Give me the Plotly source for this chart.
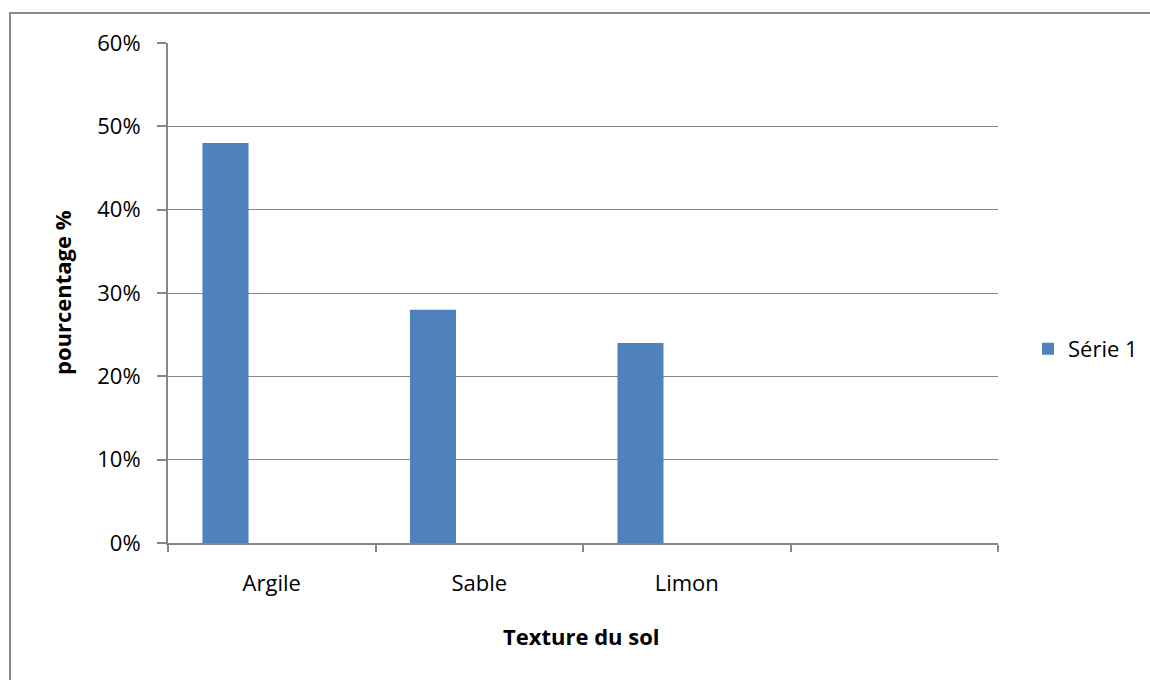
import plotly.graph_objects as go

# Soil texture shares
categories = ["Argile", "Sable", "Limon", ""]
series_name = "Série 1"
values = [0.48, 0.28, 0.24]
y_ticks = [0, 0.1, 0.2, 0.3, 0.4, 0.5, 0.6]

FONT = "Open Sans"
FS = 22
GREY = "#868686"
BAR = "#4F81BD"

# plot area geometry (pixels) used for paper-coordinate conversions
W, H = 1150, 680
L, R, T, B = 168, 998, 43, 543
pw, ph = R - L, B - T


def px_x(x):
    return (x - L) / pw


def px_y(y):
    return (B - y) / ph


idx = list(range(len(values)))

fig = go.Figure()
fig.add_trace(go.Bar(
    x=idx,
    y=values,
    name=series_name,
    offset=0.166,
    width=0.222,
    marker=dict(color=BAR, line=dict(width=0)),
    showlegend=True,
))

fig.update_layout(
    width=W,
    height=H,
    margin=dict(l=L, r=W - R, t=T, b=H - B, pad=0, autoexpand=False),
    paper_bgcolor="white",
    plot_bgcolor="white",
    font=dict(family=FONT, size=FS, color="#000000"),
    xaxis=dict(
        range=[0, len(categories)],
        tickmode="array",
        tickvals=[i + 0.5 for i in range(len(categories))],
        ticktext=categories,
        ticks="",
        ticklabelstandoff=20,
        showgrid=False,
        zeroline=False,
        showline=True,
        linecolor=GREY,
        linewidth=2,
        minor=dict(
            tickmode="linear",
            tick0=0,
            dtick=1,
            ticks="outside",
            ticklen=7,
            tickwidth=2,
            tickcolor=GREY,
            showgrid=False,
        ),
        fixedrange=True,
    ),
    yaxis=dict(
        range=[0, 0.6],
        tickmode="array",
        tickvals=y_ticks,
        tickformat=".0%",
        ticks="outside",
        ticklen=9,
        tickwidth=2,
        tickcolor=GREY,
        ticklabelstandoff=12,
        showgrid=True,
        gridcolor=GREY,
        gridwidth=1,
        zeroline=False,
        showline=True,
        linecolor=GREY,
        linewidth=2,
        fixedrange=True,
    ),
    legend=dict(
        x=px_x(1028),
        y=px_y(349),
        xanchor="left",
        yanchor="middle",
        font=dict(family=FONT, size=FS),
        itemwidth=30,
        bgcolor="rgba(0,0,0,0)",
    ),
    annotations=[
        dict(
            text="<b>pourcentage %</b>",
            xref="paper", yref="paper",
            x=px_x(62), y=px_y(293),
            xanchor="center", yanchor="middle",
            textangle=-90,
            showarrow=False,
            font=dict(family=FONT, size=FS),
        ),
        dict(
            text="<b>Texture du sol</b>",
            xref="paper", yref="paper",
            x=px_x(581), y=px_y(636),
            xanchor="center", yanchor="middle",
            showarrow=False,
            font=dict(family=FONT, size=FS),
        ),
    ],
    shapes=[
        # chart frame (top and left edges visible)
        dict(
            type="rect",
            xref="paper", yref="paper",
            x0=px_x(10), y0=px_y(H + 20),
            x1=px_x(W + 20), y1=px_y(13),
            line=dict(color="#898989", width=2),
            fillcolor="rgba(0,0,0,0)",
            layer="below",
        ),
    ],
)

fig.write_html("out.html")
